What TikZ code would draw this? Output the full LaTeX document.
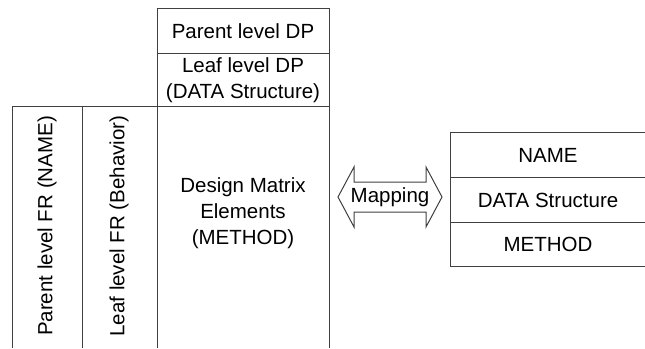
\documentclass[tikz,border=0pt]{standalone}
\usepackage{fontspec}
\setmainfont{Liberation Sans}
\begin{document}
\begin{tikzpicture}[x=1pt,y=-1pt,
  rule/.style={draw=black!75,line width=1pt},
  lbl/.style={font=\fontsize{20.5}{26}\selectfont,align=center,inner sep=0pt,text=black}]
\useasboundingbox (0,0) rectangle (645,348);

% DP header boxes
\draw[rule] (157,8) rectangle (329,53);
\draw[rule] (157,53) -- (157,106);
\draw[rule] (329,53) -- (329,106);
\node[lbl] (pdp) at (243,31) {Parent level DP};
\node[lbl] (ldp) at (243,80) {Leaf level DP\\(DATA Structure)};

% FR columns and design matrix body (open at the bottom)
\draw[rule] (12,348) -- (12,106) -- (329,106) -- (329,348);
\draw[rule] (82,106) -- (82,348);
\draw[rule] (157,106) -- (157,348);
\node[lbl,rotate=90] (pfr) at (47,226) {Parent level FR (NAME)};
\node[lbl,rotate=90] (lfr) at (119,226) {Leaf level FR (Behavior)};
\node[lbl] (dme) at (243,213) {Design Matrix\\Elements\\(METHOD)};

% Mapping double arrow
\draw[rule,fill=white] (338,197) -- (354,167) -- (354,182) -- (426,182) -- (426,167)
  -- (442,197) -- (426,227) -- (426,212) -- (354,212) -- (354,227) -- cycle;
\node[lbl] (map) at (390,197) {Mapping};

% Object table
\draw[rule] (645,132) -- (450,132) -- (450,266) -- (645,266);
\draw[rule] (450,177) -- (645,177);
\draw[rule] (450,222) -- (645,222);
\node[lbl] (nm) at (548,155) {NAME};
\node[lbl] (ds) at (548,200) {DATA Structure};
\node[lbl] (me) at (548,244) {METHOD};
\end{tikzpicture}
\end{document}
